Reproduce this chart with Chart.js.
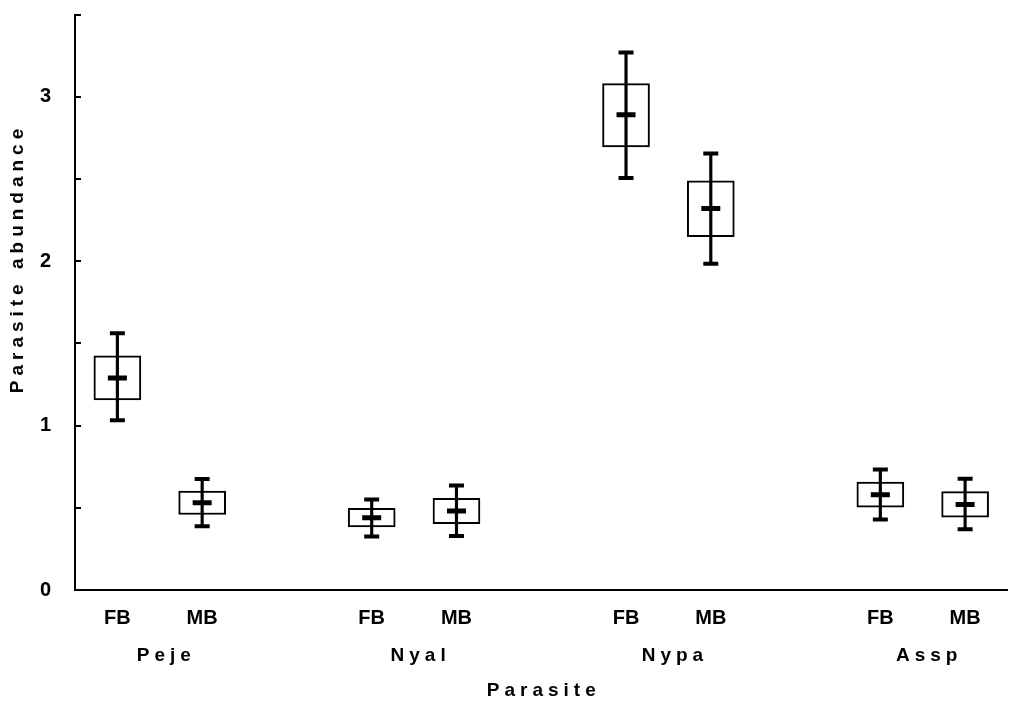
<!doctype html>
<html lang="en">
  <head>
    <meta charset="UTF-8" />
    <title>Parasite abundance</title>
    <script src="https://cdn.jsdelivr.net/npm/chart.js"></script>
    <style>
      html, body { margin: 0; padding: 0; overflow: hidden; background: #fff; }
      #wrap { width: 1022px; height: 703px; }
    </style>
  </head>
  <body>
    <div id="wrap"><canvas id="abundance-chart"></canvas></div>
    <script>
      // Data, order: Peje FB, Peje MB, Nyal FB, Nyal MB, Nypa FB, Nypa MB, Assp FB, Assp MB
      const groups = ['Peje', 'Nyal', 'Nypa', 'Assp'];
      const sexes = ['FB', 'MB'];
      const means   = [1.29, 0.53, 0.44, 0.48, 2.89, 2.32, 0.58, 0.52];
      const boxLow  = [1.156, 0.459, 0.383, 0.403, 2.695, 2.149, 0.503, 0.443];
      const boxHigh = [1.424, 0.602, 0.497, 0.558, 3.080, 2.488, 0.657, 0.598];
      const whiskLow  = [1.033, 0.387, 0.326, 0.328, 2.506, 1.984, 0.429, 0.370];
      const whiskHigh = [1.561, 0.675, 0.550, 0.636, 3.269, 2.655, 0.733, 0.677];
      const yTicks = [0, 1, 2, 3];

      // slots on the category axis: FB, MB, gap, FB, MB, gap ...
      const labels = [];
      const slotOf = [];
      groups.forEach((g, gi) => {
        sexes.forEach(s => { slotOf.push(labels.length); labels.push(s); });
        if (gi < groups.length - 1) labels.push('');
      });
      const toSlots = (fn) => {
        const out = labels.map(() => null);
        slotOf.forEach((slot, i) => { out[slot] = fn(i); });
        return out;
      };

      const spacedText = {
        id: 'spacedText',
        afterDraw(chart) {
          const ctx = chart.ctx;
          const area = chart.chartArea;
          const x = chart.scales.x;
          const sp = 5;
          ctx.save();
          ctx.fillStyle = '#000';
          ctx.font = 'bold 19px "Liberation Sans", Arial, sans-serif';
          ctx.letterSpacing = sp + 'px';
          ctx.textAlign = 'center';
          ctx.textBaseline = 'middle';
          groups.forEach((g, gi) => {
            const px = x.getPixelForValue(slotOf[gi * 2] + 0.5);
            ctx.fillText(g, px + sp / 2 + 4, x.top + 66);
          });
          ctx.fillText('Parasite', (area.left + area.right) / 2 + sp / 2, x.top + 101);
          ctx.translate(18, 261);
          ctx.rotate(-Math.PI / 2);
          ctx.fillText('Parasite abundance', sp / 2, 0);
          ctx.restore();

          // inward tick marks on the y axis
          const y = chart.scales.y;
          ctx.save();
          ctx.strokeStyle = '#000';
          ctx.lineWidth = 2;
          y.ticks.forEach(t => {
            const py = Math.round(y.getPixelForValue(t.value));
            ctx.beginPath();
            ctx.moveTo(area.left, py);
            ctx.lineTo(area.left + 6, py);
            ctx.stroke();
          });
          ctx.restore();
        }
      };

      const ctx = document.getElementById('abundance-chart').getContext('2d');
      new Chart(ctx, {
        type: 'bar',
        data: {
          labels: labels,
          datasets: [
            {
              // mean +/- SE box
              data: toSlots(i => [boxLow[i], boxHigh[i]]),
              backgroundColor: '#fff',
              borderColor: '#000',
              borderWidth: 2,
              borderSkipped: false,
              barThickness: 47,
              grouped: false,
              order: 3
            },
            {
              // whisker line
              data: toSlots(i => [whiskLow[i], whiskHigh[i]]),
              backgroundColor: '#000',
              borderWidth: 0,
              barThickness: 2.5,
              grouped: false,
              order: 2
            },
            {
              type: 'line',
              data: toSlots(i => whiskHigh[i]),
              showLine: false,
              pointStyle: 'line',
              pointRadius: 7.5,
              pointBorderWidth: 4,
              pointBorderColor: '#000',
              order: 1
            },
            {
              type: 'line',
              data: toSlots(i => whiskLow[i]),
              showLine: false,
              pointStyle: 'line',
              pointRadius: 7.5,
              pointBorderWidth: 4,
              pointBorderColor: '#000',
              order: 1
            },
            {
              type: 'line',
              data: toSlots(i => means[i]),
              showLine: false,
              pointStyle: 'line',
              pointRadius: 9.5,
              pointBorderWidth: 5,
              pointBorderColor: '#000',
              order: 0
            }
          ]
        },
        options: {
          responsive: true,
          maintainAspectRatio: false,
          animation: false,
          events: [],
          layout: { padding: { top: 9, left: 0, right: 0, bottom: 0 } },
          plugins: {
            legend: { display: false },
            tooltip: { enabled: false }
          },
          scales: {
            x: {
              type: 'category',
              offset: true,
              grid: { display: false },
              border: { display: true, color: '#000', width: 2 },
              ticks: {
                color: '#000',
                font: { family: '"Liberation Sans", Arial, sans-serif', size: 20, weight: 'bold' },
                padding: 8,
                autoSkip: false,
                maxRotation: 0
              },
              afterFit(scale) { scale.height = 113; scale.paddingLeft = 0; scale.paddingRight = 0; }
            },
            y: {
              min: 0,
              max: 3.5,
              grid: { display: false },
              border: { display: true, color: '#000', width: 2 },
              ticks: {
                stepSize: 0.5,
                color: '#000',
                padding: 16,
                font: { family: '"Liberation Sans", Arial, sans-serif', size: 20, weight: 'bold' },
                callback: v => yTicks.includes(v) ? String(v) : ''
              },
              afterFit(scale) { scale.width = 75; scale.paddingTop = 0; scale.paddingBottom = 0; }
            }
          }
        },
        plugins: [spacedText]
      });
    </script>
  </body>
</html>
